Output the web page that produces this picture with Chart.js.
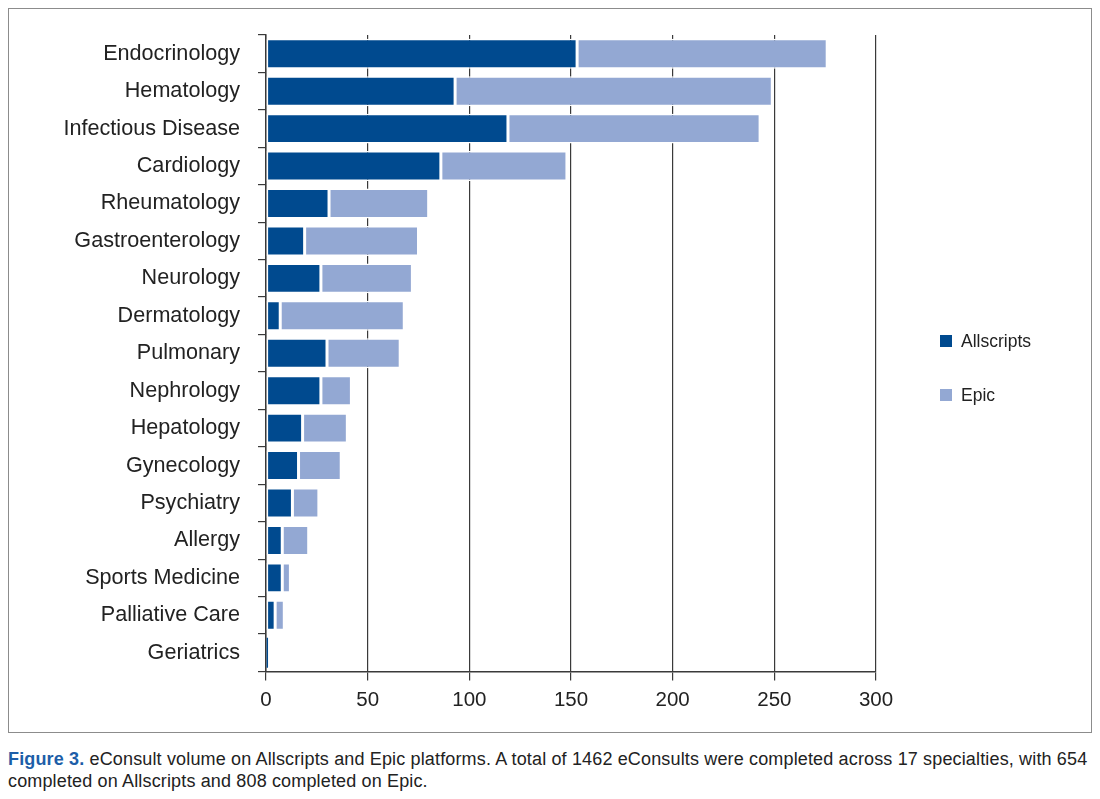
<!DOCTYPE html>
<html>
<head>
<meta charset="utf-8">
<script src="https://cdn.jsdelivr.net/npm/chart.js@4/dist/chart.umd.min.js"></script>
<style>
  body { margin: 0; background: #fff; font-family: "Liberation Sans", Arial, sans-serif; }
  #frame { position: absolute; left: 8px; top: 8px; width: 1082px; height: 723px; border: 1px solid #8c8c8c; }
  #frame canvas { display: block; }
  .legend { position: absolute; left: 931px; font-size: 17.5px; color: #222; }
  .legend span.box { position: absolute; left: 0; top: 4px; width: 12px; height: 12px; }
  .legend span.txt { position: absolute; left: 21px; top: 0; white-space: nowrap; }
  #caption { position: absolute; left: 8px; top: 748px; width: 1090px; font-size: 18px; letter-spacing: 0.15px; line-height: 22px; color: #222; }
  #caption b { color: #1d5ea8; }
</style>
</head>
<body>
<div id="frame">
  <canvas id="chart" width="1082" height="723"></canvas>
  <div class="legend" style="top:322px"><span class="box" style="background:#004a8f"></span><span class="txt">Allscripts</span></div>
  <div class="legend" style="top:376px"><span class="box" style="background:#93a8d3"></span><span class="txt">Epic</span></div>
</div>
<div id="caption"><b>Figure 3.</b> eConsult volume on Allscripts and Epic platforms. A total of 1462 eConsults were completed across 17 specialties, with 654 completed on Allscripts and 808 completed on Epic.</div>
<script>
const specialties = ['Endocrinology', 'Hematology', 'Infectious Disease', 'Cardiology', 'Rheumatology',
  'Gastroenterology', 'Neurology', 'Dermatology', 'Pulmonary', 'Nephrology', 'Hepatology',
  'Gynecology', 'Psychiatry', 'Allergy', 'Sports Medicine', 'Palliative Care', 'Geriatrics'];
const allscripts = [153, 93, 119, 86, 31, 19, 27, 7, 30, 27, 18, 16, 13, 8, 8, 4.5, 1];
const epic = [123, 156, 124, 62, 49, 56, 45, 61, 36, 15, 22, 21, 13, 13, 4, 4.5, 0];
const xTicks = [0, 50, 100, 150, 200, 250, 300];

const lineCol = '#3a3a3a';
// thin white edge between segments; skipped on tiny bars so they stay visible
const edge = ctx => (ctx.raw < 3 ? 0 : 1.5);

new Chart(document.getElementById('chart'), {
  type: 'bar',
  data: {
    labels: specialties,
    datasets: [
      { label: 'Allscripts', data: allscripts, backgroundColor: '#004a8f', borderColor: '#ffffff', borderWidth: edge, borderSkipped: false },
      { label: 'Epic', data: epic, backgroundColor: '#93a8d3', borderColor: '#ffffff', borderWidth: edge, borderSkipped: false },
    ],
  },
  options: {
    indexAxis: 'y',
    responsive: false,
    animation: false,
    categoryPercentage: 1,
    barPercentage: 0.8,
    layout: { padding: { top: 26, right: 215, bottom: 20.5, left: 0 } },
    plugins: { legend: { display: false }, tooltip: { enabled: false } },
    scales: {
      x: {
        stacked: true,
        min: 0,
        max: 300,
        afterBuildTicks(scale) { scale.ticks = xTicks.map(v => ({ value: v })); },
        afterFit(scale) { scale.height = 40; scale.paddingLeft = 0; scale.paddingRight = 0; },
        grid: { color: lineCol, lineWidth: 1.2, tickLength: 9 },
        border: { color: lineCol, width: 1.5 },
        ticks: { color: '#222', font: { family: 'Liberation Sans', size: 20.5 }, padding: 8 },
      },
      y: {
        stacked: true,
        afterFit(scale) { scale.width = 257; scale.paddingTop = 0; scale.paddingBottom = 0; },
        grid: { offset: true, drawOnChartArea: false, color: lineCol, lineWidth: 1.2, tickLength: 8 },
        border: { color: lineCol, width: 1.5 },
        ticks: { color: '#222', font: { family: 'Liberation Sans', size: 21.6 }, padding: 18 },
      },
    },
  },
});
</script>
</body>
</html>
